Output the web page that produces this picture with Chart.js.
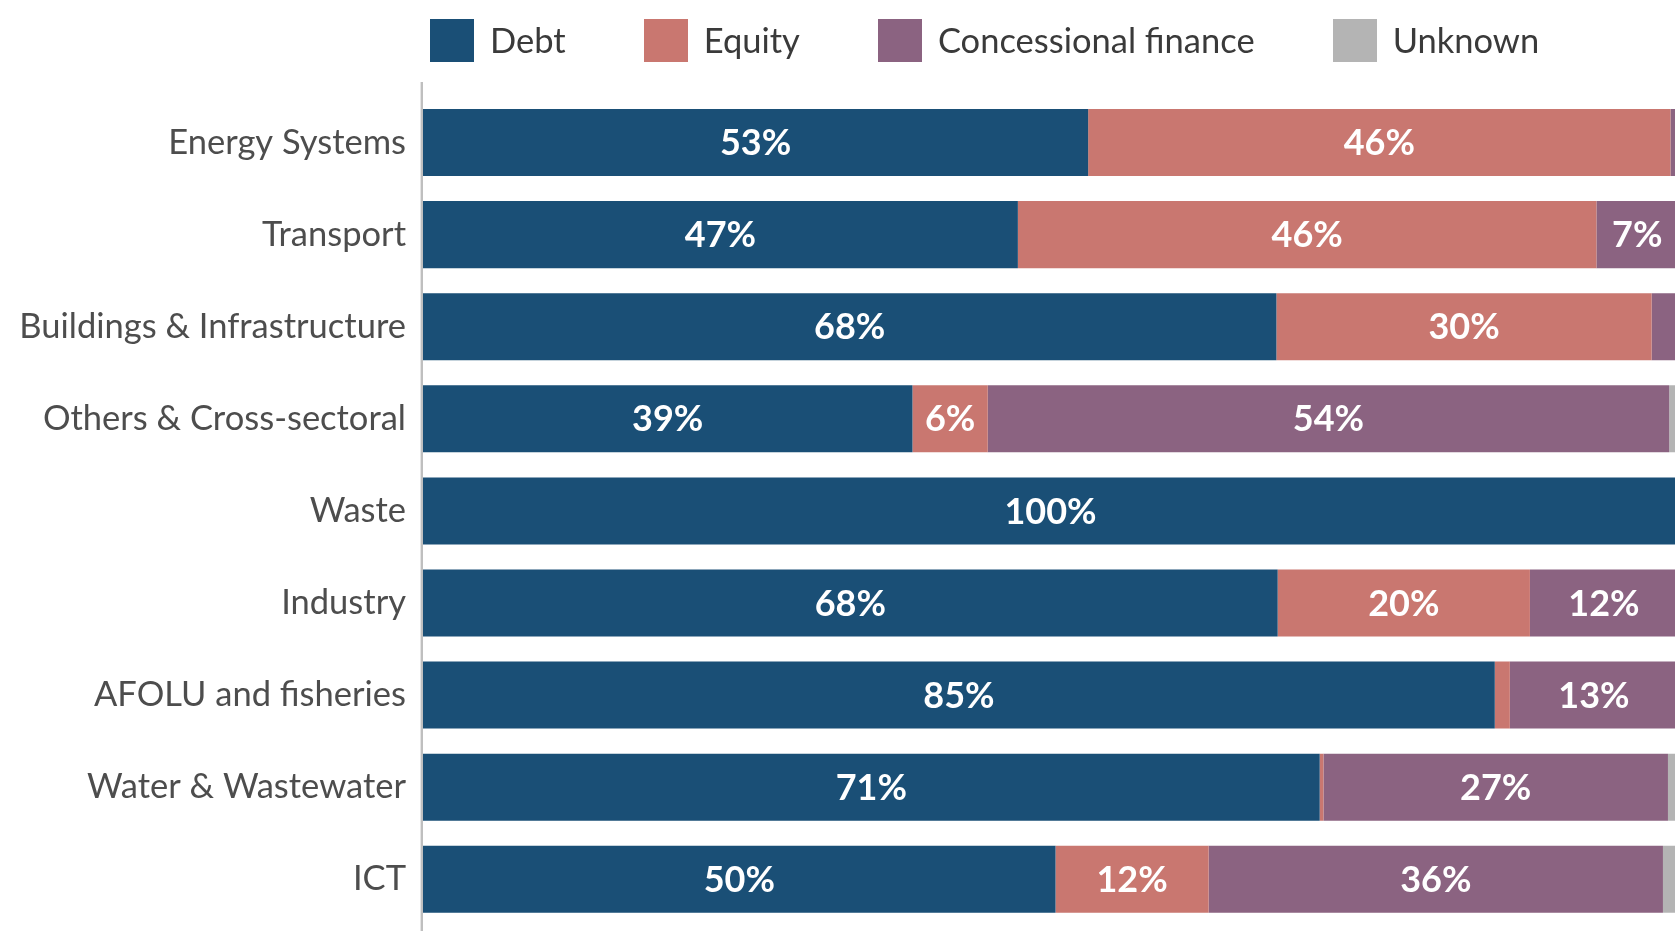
<!DOCTYPE html>
<html>
<head>
<meta charset="utf-8">
<script src="https://cdn.jsdelivr.net/npm/chart.js@4.4.1/dist/chart.umd.min.js"></script>
<style>
  html, body { margin: 0; padding: 0; background: #ffffff; overflow: hidden; width: 1675px; height: 931px; }
  #wrap { position: relative; width: 1675px; height: 931px; overflow: hidden; }
  #chart { position: absolute; left: 0; top: 0; }
  #legend { position: absolute; left: 430px; top: 19px; display: flex; align-items: center; font-family: "Lato", "Open Sans", sans-serif; font-size: 34.5px; color: #3a3a3a; }
  .item { display: flex; align-items: center; margin-right: 78px; }
  .box { width: 44px; height: 43px; margin-right: 16px; }
  .item span { position: relative; top: -1px; }
</style>
</head>
<body>
<div id="wrap">
  <canvas id="chart" width="1678" height="931"></canvas>
  <div id="legend"></div>
</div>
<script>
const categories = ["Energy Systems", "Transport", "Buildings & Infrastructure", "Others & Cross-sectoral", "Waste", "Industry", "AFOLU and fisheries", "Water & Wastewater", "ICT"];
const seriesNames = ["Debt", "Equity", "Concessional finance", "Unknown"];
const debt         = [53.0, 47.4, 68.0, 39.0, 100, 68.1, 85.4, 71.45, 50.4];
const equity       = [46.4, 46.1, 29.9,  6.0,   0, 20.1,  1.2,  0.3,  12.2];
const concessional = [ 0.6,  6.5,  2.1, 54.3,   0, 11.8, 13.4, 27.45, 36.2];
const unknown      = [ 0,    0,    0,    0.7,   0,  0,    0,    0.8,  1.2];
const colors = ["#1a4f76", "#c97770", "#8b6381", "#b4b4b4"];

const FONT = '"Lato", "Open Sans", sans-serif';

const seriesValues = [debt, equity, concessional, unknown];
const datasets = seriesNames.map((name, i) => ({
  label: name,
  data: seriesValues[i],
  backgroundColor: colors[i],
  borderWidth: 0,
  barPercentage: 0.728,
  categoryPercentage: 1.0
}));

const axisLinePlugin = {
  id: 'axisLine',
  beforeDatasetsDraw(chart) {
    const ctx = chart.ctx;
    const x = chart.chartArea.left - 1.2;
    ctx.save();
    ctx.strokeStyle = '#bfbfbf';
    ctx.lineWidth = 2.4;
    ctx.beginPath();
    ctx.moveTo(x, 82);
    ctx.lineTo(x, chart.height);
    ctx.stroke();
    ctx.restore();
  }
};

const valueLabelPlugin = {
  id: 'valueLabels',
  afterDatasetsDraw(chart) {
    const ctx = chart.ctx;
    ctx.save();
    ctx.font = 'bold 36px ' + FONT;
    ctx.fillStyle = '#ffffff';
    ctx.textAlign = 'center';
    ctx.textBaseline = 'middle';
    chart.data.datasets.forEach((ds, di) => {
      const meta = chart.getDatasetMeta(di);
      meta.data.forEach((el, i) => {
        const v = ds.data[i];
        const r = Math.round(v);
        if (r < 5) return;
        const p = el.getProps(['x', 'base', 'y'], true);
        ctx.fillText(r + '%', (p.x + p.base) / 2, p.y + 1);
      });
    });
    ctx.restore();
  }
};

const chart = new Chart(document.getElementById('chart'), {
  type: 'bar',
  data: { labels: categories, datasets: datasets },
  options: {
    indexAxis: 'y',
    responsive: false,
    animation: false,
    layout: { padding: { top: 96.5, bottom: 5.7, left: 0, right: 0 } },
    plugins: { legend: { display: false }, tooltip: { enabled: false } },
    scales: {
      x: { stacked: true, min: 0, max: 100, display: false },
      y: {
        stacked: true,
        grid: { display: false, drawTicks: false },
        border: { display: false },
        ticks: { color: '#4d4d4d', font: { family: FONT, size: 34.5 }, padding: 17 },
        afterFit(scale) { scale.width = 423; scale.paddingTop = 0; scale.paddingBottom = 0; }
      }
    }
  },
  plugins: [axisLinePlugin, valueLabelPlugin]
});

const legend = document.getElementById('legend');
chart.data.datasets.forEach(ds => {
  const item = document.createElement('div');
  item.className = 'item';
  const box = document.createElement('div');
  box.className = 'box';
  box.style.background = ds.backgroundColor;
  const txt = document.createElement('span');
  txt.textContent = ds.label;
  item.appendChild(box);
  item.appendChild(txt);
  legend.appendChild(item);
});
</script>
</body>
</html>
